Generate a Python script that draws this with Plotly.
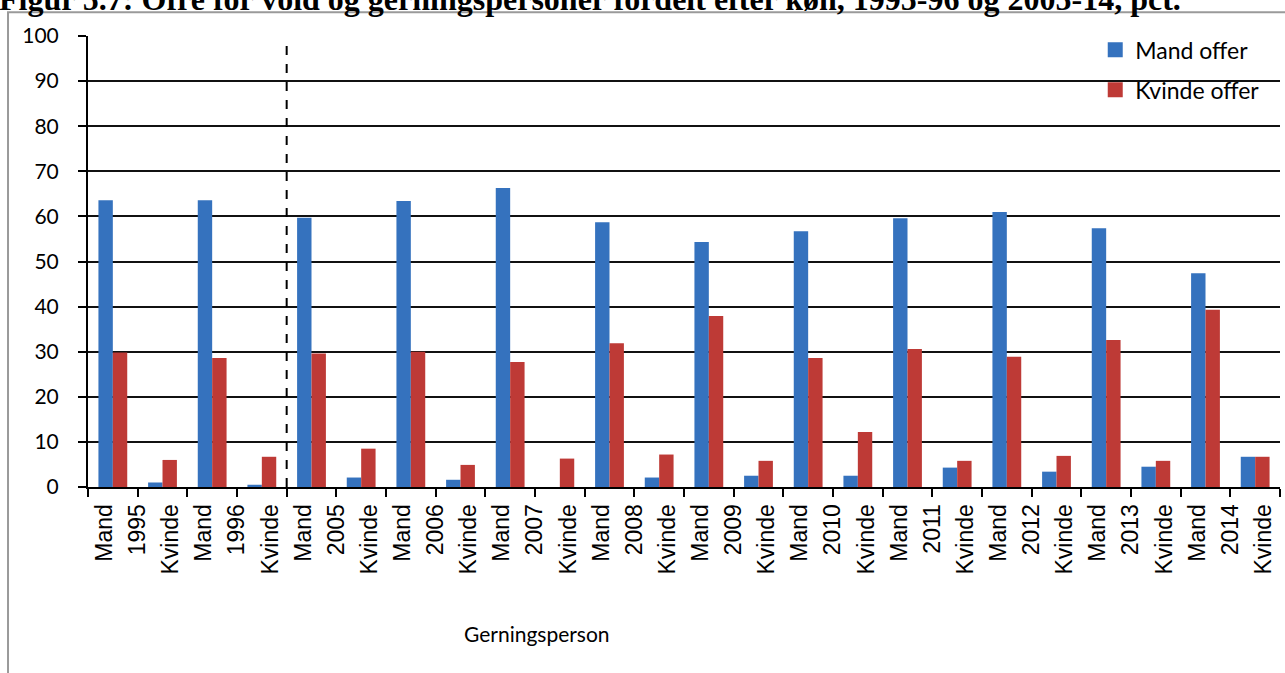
import plotly.graph_objects as go

# Ofre for vold og gerningspersoner fordelt efter køn, pct.
years = ["1995", "1996", "2005", "2006", "2007", "2008", "2009", "2010", "2011", "2012", "2013", "2014"]
perp = ["Mand", "Kvinde"]

# one value per (year, gerningsperson), ordered Mand, Kvinde for each year
mand_offer = [63.6, 1.0, 63.6, 0.5, 59.7, 2.1, 63.4, 1.6, 66.3, 0.0, 58.7, 2.1,
              54.3, 2.5, 56.7, 2.5, 59.6, 4.3, 61.0, 3.4, 57.4, 4.5, 47.4, 6.7]
kvinde_offer = [29.8, 6.0, 28.6, 6.7, 29.6, 8.5, 30.0, 4.9, 27.7, 6.3, 31.9, 7.2,
                37.9, 5.8, 28.6, 12.2, 30.6, 5.8, 28.9, 6.9, 32.6, 5.8, 39.3, 6.7]

blue = "#3572BE"
red = "#BE3A36"

n = len(years) * len(perp)
xpos = list(range(n))

# tick labels: Mand / year / Kvinde spread evenly over each year pair
tick_text = []
for y in years:
    tick_text += ["Mand", y, "Kvinde"]
tick_vals = [-0.5 + (k + 0.5) * 2 / 3 for k in range(len(tick_text))]

fig = go.Figure()
fig.add_bar(x=xpos, y=mand_offer, name="Mand offer", marker_color=blue,
            marker_line_width=0, showlegend=False)
fig.add_bar(x=xpos, y=kvinde_offer, name="Kvinde offer", marker_color=red,
            marker_line_width=0, showlegend=False)
# legend entries with bigger square swatches
fig.add_scatter(x=[None], y=[None], mode="markers", name="Mand offer", legendgroup="a",
                marker=dict(symbol="square", size=15, color=blue))
fig.add_scatter(x=[None], y=[None], mode="markers", name="Kvinde offer", legendgroup="b",
                marker=dict(symbol="square", size=15, color=red))

fig.update_layout(
    width=1285, height=673,
    margin=dict(l=88, r=5, t=36, b=186),
    paper_bgcolor="white", plot_bgcolor="white",
    barmode="group", bargap=0.42, bargroupgap=0,
    font=dict(family="Lato", size=21, color="black"),
    legend=dict(x=0.845, y=1.017, xanchor="left", yanchor="top",
                bgcolor="rgba(0,0,0,0)", traceorder="grouped", tracegroupgap=7,
                itemwidth=30, font=dict(family="Lato", size=23)),
    showlegend=True,
)

fig.update_xaxes(
    range=[-0.5, n - 0.5], tickmode="array", tickvals=tick_vals, ticktext=tick_text,
    tickangle=-90, ticks="", ticklabelstandoff=6,
    tickfont=dict(family="Liberation Sans", size=23, color="black"),
    showline=True, linecolor="black", linewidth=2, showgrid=False, zeroline=False,
    minor=dict(tickmode="array", tickvals=[i - 0.5 for i in range(n + 1)],
               ticks="outside", ticklen=8, tickwidth=2, tickcolor="black", showgrid=False),
)
fig.update_yaxes(
    range=[0, 100], dtick=10, tick0=0,
    ticks="outside", ticklen=8, tickwidth=2, tickcolor="black", ticklabelstandoff=15,
    tickfont=dict(family="Lato", size=21, color="black"),
    showline=True, linecolor="black", linewidth=2,
    showgrid=True, gridcolor="#111111", gridwidth=2, zeroline=False,
)

# dashed divider between 1995-96 and 2005-14
fig.add_shape(type="line", xref="x", yref="y", x0=3.5, x1=3.5, y0=0, y1=99,
              line=dict(color="black", width=2, dash="dash"))

# outer chart frame (runs off the right and bottom of the picture)
fig.add_shape(type="rect", xref="paper", yref="paper", x0=-0.0671, x1=1.2, y0=-0.6, y1=1.0525,
              line=dict(color="#9a9a9a", width=2), layer="below")

fig.add_annotation(text="Gerningsperson", xref="paper", yref="paper", x=0.377, y=-0.325,
                   yanchor="middle", showarrow=False,
                   font=dict(family="Lato", size=21, color="black"))

fig.add_annotation(text="<b>Figur 5.7: Ofre for vold og gerningspersoner fordelt efter køn, 1995-96 og 2005-14, pct.</b>",
                   xref="paper", yref="paper", x=-0.076, y=1.037, xanchor="left", yanchor="bottom",
                   showarrow=False, font=dict(family="Liberation Serif", size=32, color="black"))

fig.write_html("out.html", config={"displayModeBar": False},
               post_script="document.body.style.margin='0';")
